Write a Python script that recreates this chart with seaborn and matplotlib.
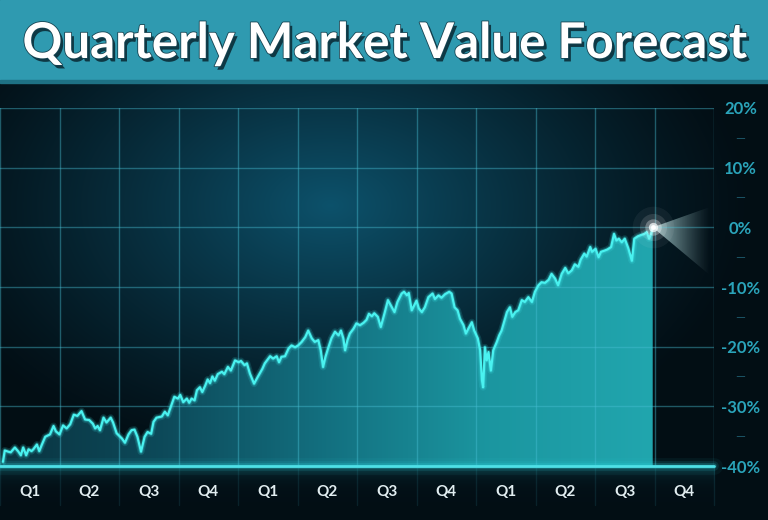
import numpy as np
import pandas as pd
import seaborn as sns
import matplotlib.pyplot as plt
import matplotlib.patheffects as pe
from matplotlib.patches import PathPatch, Polygon, Rectangle
from matplotlib.colors import LinearSegmentedColormap

title = "Quarterly Market Value Forecast"
quarter_labels = ["Q1", "Q2", "Q3", "Q4"] * 3
y_ticks = [20, 10, 0, -10, -20, -30, -40]
y_minor = [15, 5, -5, -15, -25, -35]

# time in quarters since start, market value change in %
t = [0.05, 0.08, 0.14, 0.18, 0.25, 0.31, 0.35, 0.39, 0.44, 0.48,
     0.53, 0.56, 0.62, 0.66, 0.70, 0.76, 0.84, 0.90, 0.94, 1.00,
     1.06, 1.12, 1.18, 1.24, 1.30, 1.37, 1.43, 1.50, 1.56, 1.60,
     1.64, 1.68, 1.74, 1.79, 1.86, 1.90, 1.96, 2.05, 2.10, 2.16,
     2.21, 2.26, 2.31, 2.37, 2.43, 2.48, 2.54, 2.58, 2.63, 2.72,
     2.77, 2.82, 2.89, 2.93, 2.99, 3.03, 3.08, 3.14, 3.18, 3.22,
     3.27, 3.31, 3.36, 3.40, 3.45, 3.49, 3.53, 3.57, 3.61, 3.66,
     3.73, 3.77, 3.83, 3.88, 3.95, 4.01, 4.05, 4.11, 4.15, 4.20,
     4.27, 4.33, 4.41, 4.45, 4.54, 4.59, 4.65, 4.69, 4.73, 4.79,
     4.85, 4.90, 4.96, 5.01, 5.07, 5.13, 5.18, 5.24, 5.29, 5.35,
     5.39, 5.43, 5.47, 5.52, 5.57, 5.63, 5.69, 5.73, 5.77, 5.80,
     5.84, 5.88, 5.94, 5.99, 6.05, 6.11, 6.16, 6.20, 6.25, 6.29,
     6.35, 6.40, 6.46, 6.52, 6.57, 6.63, 6.68, 6.75, 6.79, 6.84,
     6.87, 6.92, 6.96, 7.00, 7.04, 7.09, 7.14, 7.20, 7.27, 7.31,
     7.37, 7.42, 7.48, 7.55, 7.59, 7.64, 7.69, 7.73, 7.79, 7.83,
     7.87, 7.93, 7.97, 8.03, 8.07, 8.10, 8.12, 8.15, 8.18, 8.21,
     8.25, 8.29, 8.35, 8.39, 8.43, 8.48, 8.52, 8.57, 8.61, 8.66,
     8.71, 8.77, 8.82, 8.88, 8.94, 8.99, 9.05, 9.10, 9.16, 9.22,
     9.27, 9.33, 9.38, 9.44, 9.50, 9.55, 9.61, 9.66, 9.72, 9.76,
     9.82, 9.86, 9.92, 9.95, 10.01, 10.06, 10.10, 10.16, 10.21, 10.27,
     10.32, 10.36, 10.40, 10.45, 10.50, 10.56, 10.62, 10.66, 10.72, 10.77,
     10.83, 10.87, 10.91, 10.95, 10.97]

value = [-39.3, -37.4, -37.6, -37.7, -36.9, -37.6, -38.2, -36.9, -38.2, -37.2,
         -37.5, -37.2, -36.4, -37.5, -36.5, -35.1, -34.7, -33.3, -34.2, -34.7,
         -33.2, -33.7, -33.0, -31.4, -31.6, -30.8, -32.2, -32.3, -32.9, -33.7,
         -33.3, -34.0, -31.9, -32.7, -31.9, -32.7, -34.5, -35.4, -36.1, -34.7,
         -34.0, -33.9, -35.1, -37.6, -35.1, -34.3, -34.6, -32.6, -31.9, -31.7,
         -30.9, -31.5, -29.5, -28.4, -28.7, -28.1, -29.3, -28.7, -29.4, -28.7,
         -29.0, -27.3, -26.8, -27.6, -26.5, -25.5, -26.1, -25.0, -25.7, -24.6,
         -24.2, -24.6, -23.4, -24.0, -22.3, -22.6, -22.4, -23.1, -22.8, -24.5,
         -26.2, -25.1, -23.7, -22.8, -21.6, -22.0, -21.6, -22.6, -21.7, -21.6,
         -20.3, -19.8, -20.1, -19.8, -19.2, -18.4, -17.3, -18.6, -19.2, -18.9,
         -20.6, -23.4, -21.7, -20.1, -18.6, -17.5, -18.1, -17.3, -18.6, -20.6,
         -18.9, -17.8, -17.0, -16.1, -16.4, -16.0, -15.5, -14.5, -14.9, -14.4,
         -15.0, -16.7, -14.5, -12.2, -13.1, -14.2, -12.5, -11.1, -10.8, -11.4,
         -11.0, -13.9, -13.1, -12.3, -13.6, -14.2, -13.4, -11.7, -11.1, -12.0,
         -11.4, -11.8, -11.2, -10.8, -11.1, -13.4, -13.9, -15.3, -16.4, -17.8,
         -17.0, -15.9, -17.3, -18.6, -20.6, -25.6, -26.8, -20.1, -22.3, -20.9,
         -24.0, -20.6, -19.2, -18.1, -17.3, -15.6, -14.2, -13.4, -15.0, -14.2,
         -13.9, -12.2, -12.5, -11.7, -12.5, -10.8, -9.7, -9.2, -9.3, -8.8,
         -7.8, -8.6, -9.7, -7.8, -6.8, -7.7, -7.2, -6.2, -6.6, -5.4,
         -4.4, -4.9, -3.3, -4.1, -3.6, -5.0, -4.1, -3.9, -3.7, -3.3,
         -1.1, -2.2, -1.9, -2.5, -1.9, -3.5, -5.6, -1.9, -1.5, -1.3,
         -1.1, -0.8, -1.9, -0.8, 0.0]

# forecast cone for the last quarter
forecast_t = 11.93
forecast_high = 3.4
forecast_low = -8.0

df = pd.DataFrame({"t": t, "value": value})

sns.set_theme(style="dark")
plt.rcParams["font.family"] = ["Lato", "DejaVu Sans"]

fig = plt.figure(figsize=(7.68, 5.2), dpi=100)
fig.patch.set_facecolor("#03111a")

# background with a soft blue glow in the middle
bg = fig.add_axes([0, 0, 1, 1], zorder=0)
H, W = 520, 768
yy, xx = np.mgrid[0:H, 0:W]
r = np.sqrt(((xx - 330) / 420) ** 2 + ((yy - 205) / 270) ** 2)
glow = np.clip(1 - r, 0, 1) ** 1.2
base = np.array([0.010, 0.055, 0.080])
hi = np.array([0.050, 0.320, 0.420])
img = base + (hi - base) * glow[..., None]
band = np.exp(-np.clip(yy - 466, 0, None) / 8.0) * (yy >= 466) * (xx <= 714)
img = img + np.array([0.10, 0.55, 0.60]) * 0.32 * band[..., None]
bg.imshow(np.clip(img, 0, 1), extent=[0, 1, 0, 1], aspect="auto")
bg.axis("off")

ax = fig.add_axes([0, 1 - 466 / 520, 714 / 768, 358 / 520], zorder=1)
ax.set_facecolor("none")

# gradient fill under the curve
poly = ax.fill_between(df["t"], df["value"], -40, color="none", lw=0)
clip = PathPatch(poly.get_paths()[0], transform=ax.transData, fc="none", ec="none")
ax.add_patch(clip)
fill_cmap = LinearSegmentedColormap.from_list(
    "fill", ["#0a3441", "#0d4a5a", "#137080", "#1b96a0", "#21a6ae"])
grad = np.tile(np.linspace(0, 1, 256), (64, 1))
im = ax.imshow(grad, extent=[0, df["t"].iloc[-1], -40, 20], aspect="auto",
               cmap=fill_cmap, origin="lower", zorder=1.5)
im.set_clip_path(clip)

# forecast cone
cone = Polygon([(df["t"].iloc[-1], df["value"].iloc[-1]),
                (forecast_t, forecast_high), (forecast_t, forecast_low)],
               closed=True, fc="none", ec="none", transform=ax.transData)
ax.add_patch(cone)
u = np.linspace(0, 1, 200)
cone_img = np.zeros((50, 200, 4))
cone_img[..., 0] = 0.80
cone_img[..., 1] = 0.96
cone_img[..., 2] = 0.96
cone_img[..., 3] = 0.75 * (1 - u) ** 1.3
ci = ax.imshow(cone_img, extent=[df["t"].iloc[-1], forecast_t, forecast_low, forecast_high],
               aspect="auto", origin="lower", zorder=2)
ci.set_clip_path(cone)

# glowing line
line_glow = [pe.Stroke(linewidth=5, foreground="#3fe8ea", alpha=0.15),
             pe.Stroke(linewidth=3, foreground="#3fe8ea", alpha=0.3), pe.Normal()]
sns.lineplot(data=df, x="t", y="value", ax=ax, color="#4af2f0", lw=1.6,
             estimator=None, zorder=4, path_effects=line_glow)

# bright end point
for s, a in [(900, 0.05), (380, 0.12), (140, 0.3), (45, 0.7), (12, 1.0)]:
    ax.scatter(df["t"].iloc[-1], df["value"].iloc[-1], s=s, color="white",
               alpha=a, lw=0, zorder=6)

# glowing baseline
for lw, a in [(12, 0.06), (7, 0.12), (4, 0.25)]:
    ax.axhline(-40, color="#2fd6de", lw=lw, alpha=a, clip_on=False, zorder=3)
ax.axhline(-40, color="#4ee0e6", lw=2, clip_on=False, zorder=3.5)

# faint grid continuation below the baseline
for q in range(13):
    ax.plot([q, q], [-40, -46.5], color="#3fb6cc", alpha=0.12, lw=1, clip_on=False)

ax.set_xlim(0, 12)
ax.set_ylim(-40, 20)
ax.set_xticks(range(13), labels=[""] * 13)
ax.set_xticks([q + 0.5 for q in range(12)], labels=quarter_labels, minor=True,
              fontweight="bold")
ax.set_yticks(y_ticks, labels=[f"{v}%" for v in y_ticks], fontweight="bold",
              ha="center")
ax.set_yticks(y_minor, labels=["—"] * len(y_minor), minor=True, ha="center")
ax.set_axisbelow(False)
ax.grid(True, which="major", color="#48bfd4", alpha=0.42, lw=1)
ax.grid(False, which="minor")
for sp in ax.spines.values():
    sp.set_visible(False)
ax.set_xlabel("")
ax.set_ylabel("")

ax.tick_params(axis="x", which="both", length=0, pad=14)
ax.tick_params(axis="x", which="minor", labelsize=11, labelcolor="#e2eef1")
ax.tick_params(axis="y", which="both", length=0, left=False, right=False,
               labelleft=False, labelright=True, pad=19)
ax.tick_params(axis="y", which="major", labelsize=12, labelcolor="#2aa4ba")
ax.tick_params(axis="y", which="minor", labelsize=9, labelcolor="#1c5566")

# title banner
fig.add_artist(Rectangle((0, 1 - 82 / 520), 1, 82 / 520, transform=fig.transFigure,
                         color="#2f9ab0", zorder=5))
fig.add_artist(Rectangle((0, 1 - 83 / 520), 1, 3 / 520, transform=fig.transFigure,
                         color="#1e7184", zorder=5))
fig.text(0.501, 1 - 58 / 520, title, ha="center", va="baseline", fontsize=35.5,
         fontweight="bold", color="white", zorder=6,
         path_effects=[pe.withSimplePatchShadow(offset=(2, -2.5), shadow_rgbFace="#0b2d38", alpha=0.9),
                       pe.Stroke(linewidth=1.2, foreground="#164452"), pe.Normal()])

fig.savefig("out.png", dpi=100, facecolor=fig.get_facecolor())
